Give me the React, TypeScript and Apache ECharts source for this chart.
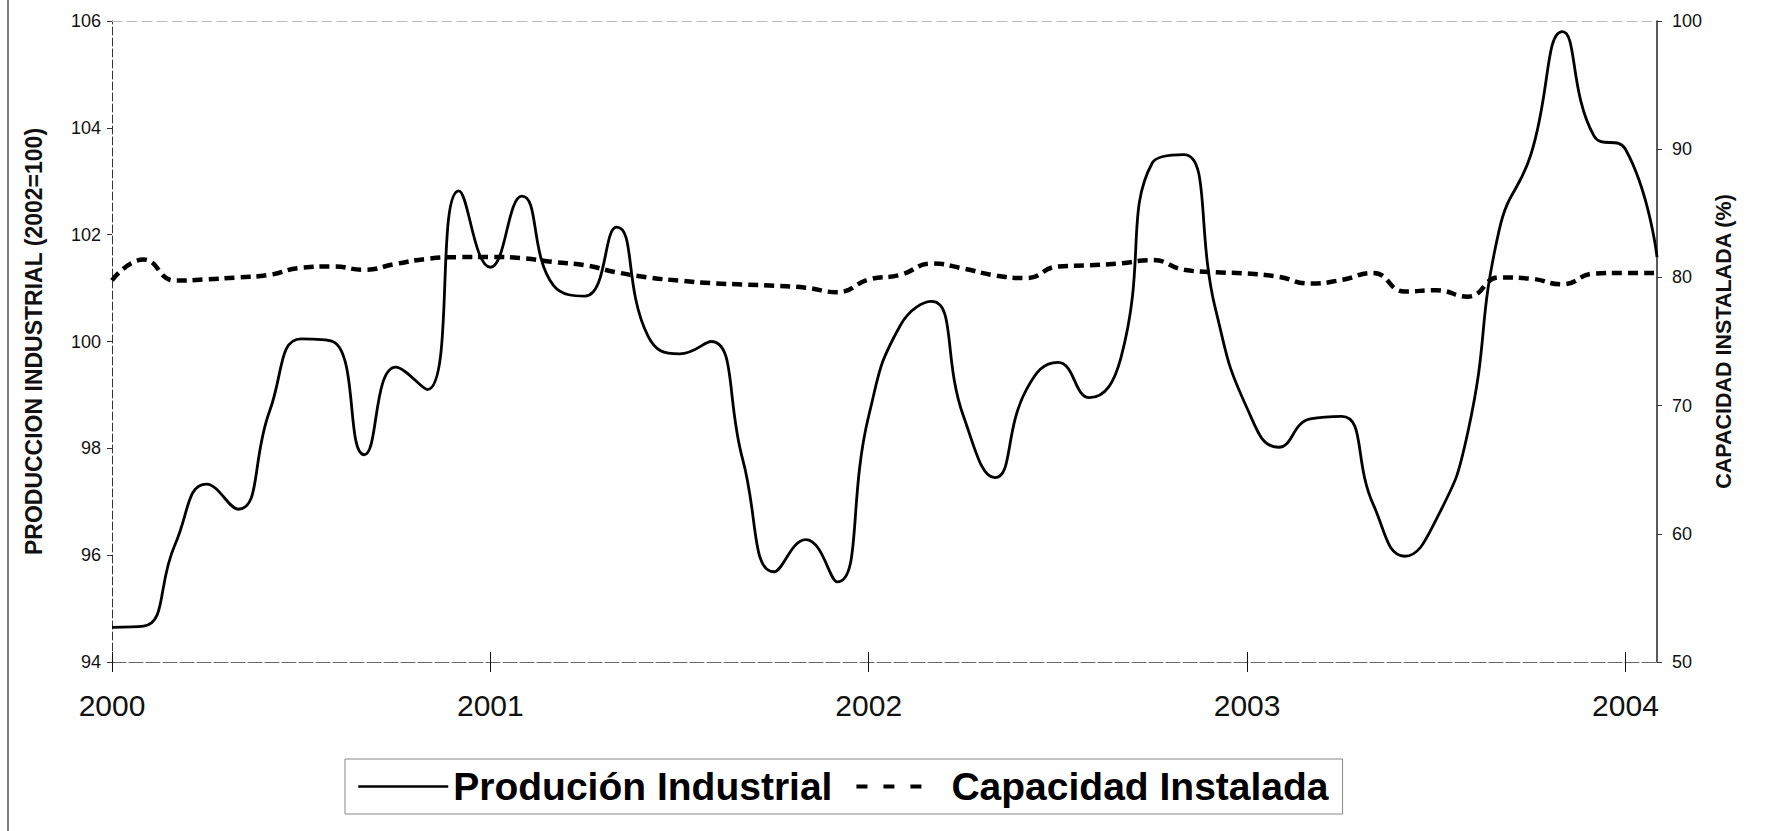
import React, { useEffect, useRef } from "react";
import * as echarts from "echarts";

// Monthly categories, Jan 2000 .. Feb 2004
const startYear = 2000;
const monthCount = 50;
const months: string[] = [];
for (let i = 0; i < monthCount; i++) {
  const y = startYear + Math.floor(i / 12);
  const m = (i % 12) + 1;
  months.push(`${y}-${m < 10 ? "0" + m : m}`);
}

const yearLabels = ["2000", "2001", "2002", "2003", "2004"];

// Producción industrial (2002=100), left axis
const produccion = [
  94.65, 94.67, 96.2, 97.33, 96.86, 98.7, 100.05, 100.0, 97.88, 99.52,
  99.1, 102.82, 101.39, 102.72, 101.05, 100.85, 102.14, 100.1, 99.77, 100.0,
  97.8, 95.69, 96.29, 95.5, 98.61, 100.3, 100.75, 98.61, 97.45, 99.1,
  99.61, 98.95, 99.7, 103.35, 103.5, 100.6, 98.75, 98.02, 98.55, 98.6,
  96.95, 95.98, 96.67, 98.3, 102.1, 103.5, 105.8, 103.85, 103.6, 101.58,
];

// Capacidad instalada (%), right axis
const capacidad = [
  79.77, 81.39, 79.75, 79.85, 80.0, 80.2, 80.75, 80.85, 80.6, 81.05,
  81.45, 81.58, 81.6, 81.5, 81.2, 80.95, 80.4, 80.0, 79.75, 79.55,
  79.45, 79.35, 79.2, 78.85, 79.83, 80.2, 81.08, 80.69, 80.16, 79.95,
  80.85, 80.94, 81.1, 81.35, 80.6, 80.4, 80.3, 80.05, 79.52, 79.8,
  80.35, 78.9, 79.0, 78.5, 80.0, 79.9, 79.46, 80.3, 80.35, 80.34,
];

const FONT = "'Liberation Sans', Arial, Helvetica, sans-serif";

export default function App() {
  const ref = useRef<HTMLDivElement>(null);

  useEffect(() => {
    if (!ref.current) return;
    const chart = echarts.init(ref.current, undefined, { renderer: "svg" });
    const hiddenSymbol = { color: "rgba(0,0,0,0)", borderColor: "rgba(0,0,0,0)", borderWidth: 0, opacity: 0 };
    const option: any = {
      animation: false,
      backgroundColor: "#ffffff",
      textStyle: { fontFamily: FONT, color: "#111" },
      grid: { left: 112, right: 131, top: 21, bottom: 169, containLabel: false },
      legend: {
        left: 345,
        top: 759,
        orient: "horizontal",
        itemWidth: 90,
        itemHeight: 14,
        itemGap: 22,
        padding: [8, 14, 8, 12],
        borderColor: "#888",
        borderWidth: 1,
        borderRadius: 0,
        textStyle: { fontSize: 39, fontWeight: "bold", color: "#000", fontFamily: FONT },
        data: [
          {
            name: "Produción Industrial",
            itemStyle: hiddenSymbol,
            lineStyle: { color: "#000", width: 2.5, type: "solid" },
          },
          {
            name: "Capacidad Instalada",
            itemStyle: hiddenSymbol,
            lineStyle: { color: "#000", width: 4, type: [11, 16, 11, 16, 11, 200] },
          },
        ],
      },
      xAxis: [
        {
          type: "category",
          data: months,
          boundaryGap: false,
          position: "bottom",
          axisLine: { show: true, lineStyle: { color: "#666", width: 1, type: [14, 3] } },
          axisTick: { show: true, interval: 11, length: 10, lineStyle: { color: "#111", width: 1 } },
          axisLabel: {
            interval: 11,
            fontSize: 30,
            color: "#111",
            margin: 28,
            fontFamily: FONT,
            formatter: (_v: string, idx: number) => yearLabels[Math.round(idx / 12)] ?? "",
          },
          splitLine: { show: false },
        },
        {
          type: "category",
          data: months,
          boundaryGap: false,
          position: "bottom",
          axisLine: { show: false },
          axisTick: { show: true, inside: true, interval: 11, length: 10, lineStyle: { color: "#111", width: 1 } },
          axisLabel: { show: false },
          splitLine: { show: false },
        },
        {
          type: "category",
          data: months,
          boundaryGap: false,
          position: "top",
          axisLine: { show: true, lineStyle: { color: "#bbb", width: 1, type: [10, 5] } },
          axisTick: { show: false },
          axisLabel: { show: false },
          splitLine: { show: false },
        },
      ],
      yAxis: [
        {
          type: "value",
          min: 94,
          max: 106,
          interval: 2,
          position: "left",
          axisLine: { show: true, lineStyle: { color: "#333", width: 1, type: [8, 3] } },
          axisTick: { show: true, length: 5, lineStyle: { color: "#333" } },
          axisLabel: { fontSize: 18, color: "#111", margin: 11, fontFamily: FONT },
          splitLine: { show: false },
          name: "PRODUCCION INDUSTRIAL (2002=100)",
          nameLocation: "middle",
          nameRotate: 90,
          nameGap: 67,
          nameTextStyle: { fontSize: 23, fontWeight: "bold", color: "#111", fontFamily: FONT },
        },
        {
          type: "value",
          min: 50,
          max: 100,
          interval: 10,
          position: "right",
          axisLine: { show: true, lineStyle: { color: "#222", width: 1.5 } },
          axisTick: { show: true, length: 5, lineStyle: { color: "#333" } },
          axisLabel: { fontSize: 18, color: "#111", margin: 15, fontFamily: FONT },
          splitLine: { show: false },
          name: "CAPACIDAD INSTALADA (%)",
          nameLocation: "middle",
          nameRotate: 90,
          nameGap: 55,
          nameTextStyle: { fontSize: 21.5, fontWeight: "bold", color: "#111", fontFamily: FONT },
        },
      ],
      graphic: [
        {
          type: "line",
          shape: { x1: 8, y1: 0, x2: 8, y2: 831 },
          style: { stroke: "#555", lineWidth: 1.5 },
          silent: true,
        },
      ],
      series: [
        {
          name: "Produción Industrial",
          type: "line",
          data: produccion,
          xAxisIndex: 0,
          yAxisIndex: 0,
          smooth: 0.5,
          symbol: "none",
          showSymbol: false,
          lineStyle: { color: "#000", width: 2.8 },
          z: 3,
        },
        {
          name: "Capacidad Instalada",
          type: "line",
          data: capacidad,
          xAxisIndex: 0,
          yAxisIndex: 1,
          smooth: 0.5,
          symbol: "none",
          showSymbol: false,
          lineStyle: { color: "#000", width: 4.5, type: [10, 6] },
          z: 2,
        },
      ],
    };
    chart.setOption(option);
    return () => chart.dispose();
  }, []);

  return (
    <div
      ref={ref}
      style={{ position: "fixed", left: 0, top: 0, width: 1788, height: 831, background: "#fff" }}
    />
  );
}
